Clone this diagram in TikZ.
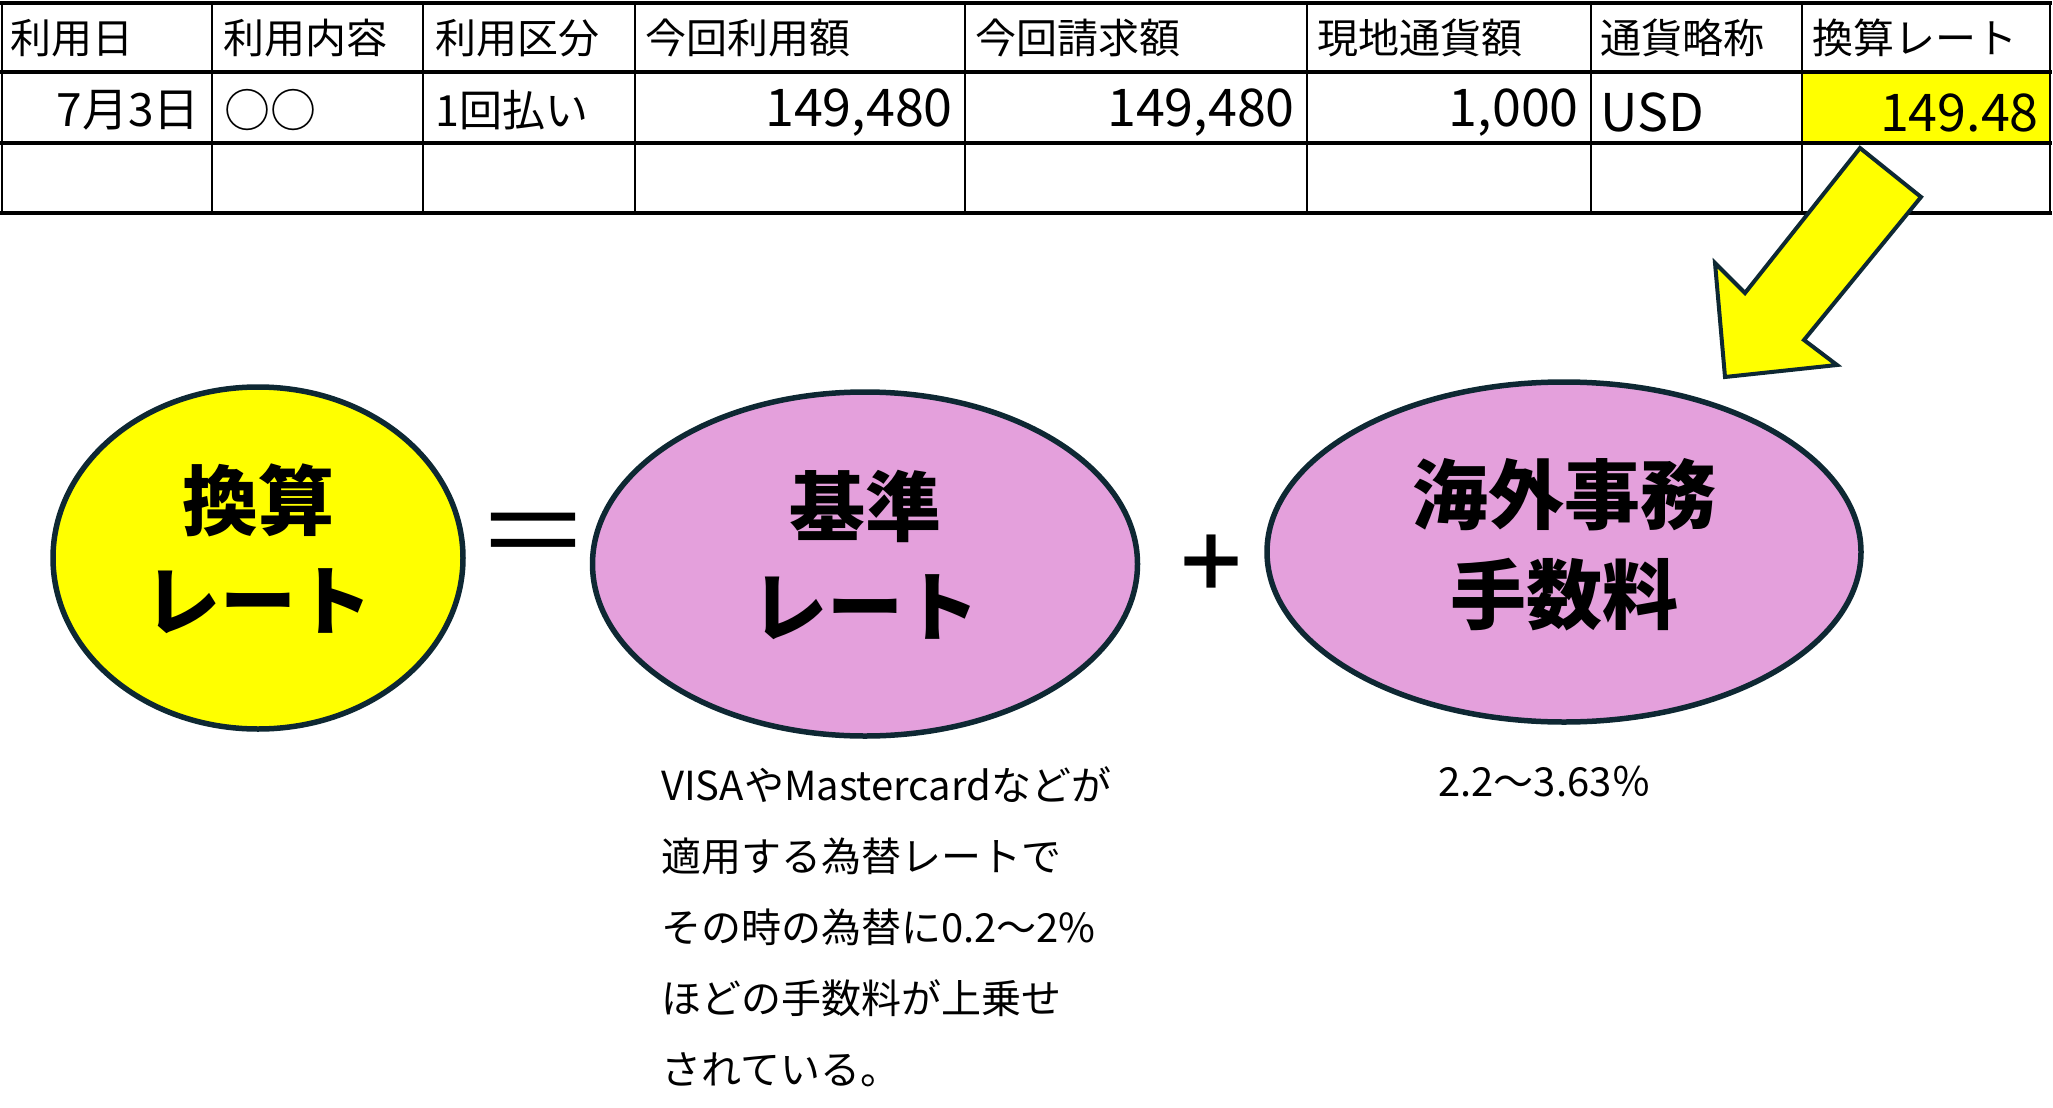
\documentclass[tikz,border=0pt]{standalone}
\usepackage{fontspec}
\setmainfont{Noto Sans CJK JP}
\usetikzlibrary{shapes.geometric}
\definecolor{markyellow}{HTML}{FFFF00}
\definecolor{ovalpink}{HTML}{E4A0DC}
\definecolor{edgenavy}{HTML}{0E2833}
\begin{document}
\begin{tikzpicture}[x=1pt,y=-1pt,
  hcell/.style={anchor=west,inner sep=0pt,font=\fontsize{41}{41}\selectfont},
  dcell/.style={inner sep=0pt,font=\fontsize{46}{46}\selectfont},
  ncell/.style={inner sep=0pt,font=\fontsize{52}{52}\selectfont},
  oval/.style={ellipse,draw=edgenavy,line width=5.5pt,inner sep=0pt,text depth=22pt,align=center,font=\bfseries\fontsize{76}{100}\selectfont},
  note/.style={anchor=west,inner sep=0pt,align=left,font=\fontsize{40}{71}\selectfont}]
\useasboundingbox (0,0) rectangle (2053,1108);
% table
\fill[markyellow] (1802,72) rectangle (2050,143);
\foreach \y in {3,72,143,213} \draw[line width=4pt] (0,\y) -- (2052,\y);
\foreach \x in {2,212,423,635,965,1307,1591,1802,2050} \draw[line width=2.8pt] (\x,3) -- (\x,213);
\node[hcell] (h1) at (10,38) {利用日};
\node[hcell] (h2) at (223,38) {利用内容};
\node[hcell] (h3) at (435,38) {利用区分};
\node[hcell] (h4) at (645,38) {今回利用額};
\node[hcell] (h5) at (975,38) {今回請求額};
\node[hcell] (h6) at (1317,38) {現地通貨額};
\node[hcell] (h7) at (1600,38) {通貨略称};
\node[hcell] (h8) at (1812,38) {換算レート};
\node[dcell,anchor=east] (d1) at (200,110) {7月3日};
\node[dcell,anchor=west] (d2) at (224,110) {○○};
\node[dcell,anchor=west,font=\fontsize{43}{43}\selectfont] (d3) at (435,110) {1回払い};
\node[ncell,anchor=east] (d4) at (953,113) {149,480};
\node[ncell,anchor=east] (d5) at (1295,113) {149,480};
\node[ncell,anchor=east] (d6) at (1579,113) {1,000};
\node[ncell,anchor=west] (d7) at (1600,112) {USD};
\node[ncell,anchor=east] (d8) at (2039,113) {149.48};
% arrow
\filldraw[fill=markyellow,draw=edgenavy,line width=4pt] (1860,148) -- (1921,197) -- (1804,340) -- (1837,365) -- (1725,377) -- (1715,263) -- (1745,293) -- cycle;
% formula
\node[oval,fill=markyellow,minimum width=410pt,minimum height=342pt] (rate) at (258,558) {換算\\レート};
\node[font=\fontsize{116}{116}\selectfont] (eq) at (533,544) {＝};
\node[oval,fill=ovalpink,minimum width=545pt,minimum height=344pt] (base) at (865,564) {基準\\レート};
\node[font=\bfseries\fontsize{76}{76}\selectfont] (plus) at (1211,563) {＋};
\node[oval,fill=ovalpink,minimum width=594pt,minimum height=340pt] (fee) at (1564,552) {海外事務\\手数料};
% notes
\node[note] (basenote) at (661,927) {VISAやMastercardなどが\\適用する為替レートで\\その時の為替に0.2〜2\%\\ほどの手数料が上乗せ\\されている。};
\node[font=\fontsize{40}{40}\selectfont] (feenote) at (1545,782) {2.2〜3.63％};
\end{tikzpicture}
\end{document}
